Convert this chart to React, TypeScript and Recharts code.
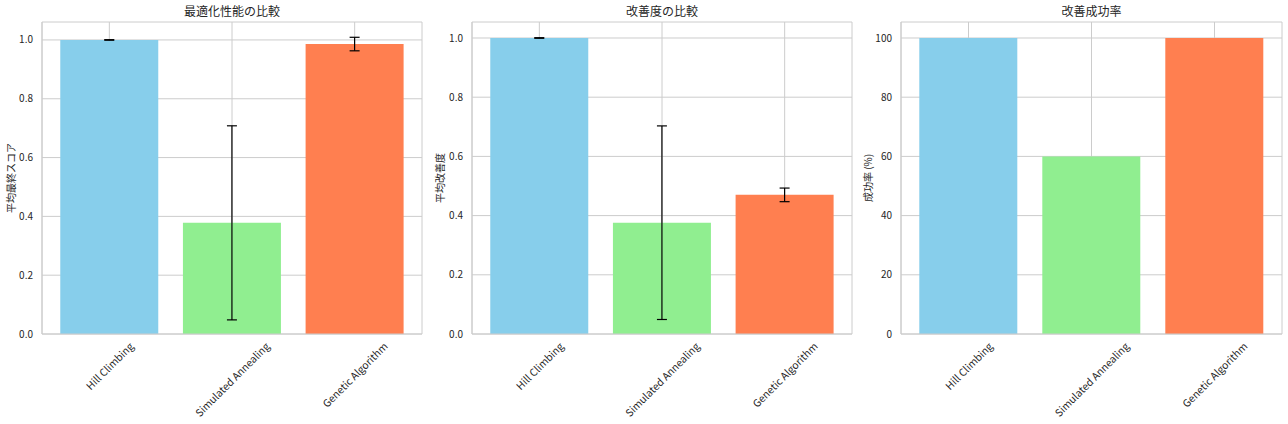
import React from "react";
import { Bar, BarChart, CartesianGrid, Cell, ErrorBar, XAxis, YAxis } from "recharts";

const algorithms = ["Hill Climbing", "Simulated Annealing", "Genetic Algorithm"];
const colors = ["#87CEEB", "#90EE90", "#FF7F50"];

const finalScoreMean = [1.0, 0.378, 0.986];
const finalScoreStd = [0.001, 0.33, 0.023];
const improvementMean = [1.0, 0.376, 0.47];
const improvementStd = [0.001, 0.327, 0.023];
const successRate = [100, 60, 100];

const ratioTicks = [0, 0.2, 0.4, 0.6, 0.8, 1.0];
const percentTicks = [0, 20, 40, 60, 80, 100];

const FONT = '"Noto Sans CJK JP", "Noto Sans", sans-serif';
const TEXT = "#262626";
const GRID = "#cccccc";

const PLOT_TOP = 22;
const PLOT_BOTTOM = 334;
const HEIGHT = 424;

let ctx: CanvasRenderingContext2D | null = null;
function textWidth(s: string, size: number) {
  if (!ctx) ctx = document.createElement("canvas").getContext("2d");
  if (!ctx) return s.length * size * 0.5;
  ctx.font = `${size}px ${FONT}`;
  return ctx.measureText(s).width;
}

function RotatedTick(props: any) {
  const { x, payload } = props;
  const size = 10.3;
  const L = textWidth(payload.value, size);
  const h = 11;
  const top = PLOT_BOTTOM + 6;
  const cy = top + (0.7071 * (L + h)) / 2;
  return (
    <text
      x={x}
      y={cy}
      transform={`rotate(-45, ${x}, ${cy})`}
      textAnchor="middle"
      dominantBaseline="central"
      fontSize={size}
      fontFamily={FONT}
      fill={TEXT}
    >
      {payload.value}
    </text>
  );
}

type PanelProps = {
  left: number;
  plotLeft: number;
  plotRight: number;
  title: string;
  yLabel: string;
  yLabelX: number;
  values: number[];
  errors?: number[];
  domainMax: number;
  ticks: number[];
  tickFormat: (v: number) => string;
};

function Panel({ left, plotLeft, plotRight, title, yLabel, yLabelX, values, errors, domainMax, ticks, tickFormat }: PanelProps) {
  const data = algorithms.map((name, i) => ({
    name,
    value: values[i],
    err: errors ? errors[i] : 0,
  }));
  const yWidth = plotLeft - left;
  const width = plotRight - left + 2;
  return (
    <div style={{ position: "absolute", left, top: 0, width, height: HEIGHT }}>
      <div
        style={{
          position: "absolute",
          left: yWidth,
          width: plotRight - plotLeft,
          top: 3,
          textAlign: "center",
          fontFamily: FONT,
          fontSize: 12,
          color: TEXT,
          lineHeight: "16px",
        }}
      >
        {title}
      </div>
      <div
        style={{
          position: "absolute",
          left: yLabelX - left - 60,
          top: (PLOT_TOP + PLOT_BOTTOM) / 2 - 8,
          width: 120,
          height: 16,
          lineHeight: "16px",
          textAlign: "center",
          transform: "rotate(-90deg)",
          fontFamily: FONT,
          fontSize: 10,
          color: TEXT,
        }}
      >
        {yLabel}
      </div>
      <BarChart
        width={width}
        height={HEIGHT}
        data={data}
        margin={{ top: PLOT_TOP, right: 2, bottom: 0, left: 0 }}
        barCategoryGap="10%"
      >
        <CartesianGrid stroke={GRID} strokeWidth={1} />
        <XAxis
          dataKey="name"
          height={HEIGHT - PLOT_BOTTOM}
          padding={{ left: 6, right: 6 }}
          tickLine={false}
          axisLine={{ stroke: GRID }}
          tick={<RotatedTick />}
          interval={0}
        />
        <XAxis xAxisId="top" orientation="top" dataKey="name" height={0} tick={false} tickLine={false} axisLine={{ stroke: GRID }} />
        <YAxis
          width={yWidth}
          domain={[0, domainMax]}
          ticks={ticks}
          tickFormatter={tickFormat}
          tickLine={false}
          tickSize={6}
          tickMargin={3}
          axisLine={{ stroke: GRID }}
          tick={{ fontSize: 10, fontFamily: FONT, fill: TEXT }}
          allowDataOverflow
        />
        <YAxis yAxisId="right" orientation="right" width={0} tick={false} tickLine={false} axisLine={{ stroke: GRID }} />
        <Bar dataKey="value" isAnimationActive={false}>
          {data.map((d, i) => (
            <Cell key={d.name} fill={colors[i]} />
          ))}
          {errors ? <ErrorBar dataKey="err" width={5} stroke="#000000" strokeWidth={1.2} /> : null}
        </Bar>
      </BarChart>
    </div>
  );
}

export default function App() {
  return (
    <div style={{ position: "absolute", left: 0, top: 0, width: 1288, height: HEIGHT, background: "#ffffff" }}>
      <Panel
        left={0}
        plotLeft={42}
        plotRight={422}
        title="最適化性能の比較"
        yLabel="平均最終スコア"
        yLabelX={11}
        values={finalScoreMean}
        errors={finalScoreStd}
        domainMax={1.061}
        ticks={ratioTicks}
        tickFormat={(v) => v.toFixed(1)}
      />
      <Panel
        left={430}
        plotLeft={472}
        plotRight={852}
        title="改善度の比較"
        yLabel="平均改善度"
        yLabelX={440}
        values={improvementMean}
        errors={improvementStd}
        domainMax={1.054}
        ticks={ratioTicks}
        tickFormat={(v) => v.toFixed(1)}
      />
      <Panel
        left={860}
        plotLeft={901}
        plotRight={1282}
        title="改善成功率"
        yLabel="成功率 (%)"
        yLabelX={868}
        values={successRate}
        domainMax={105.4}
        ticks={percentTicks}
        tickFormat={(v) => String(v)}
      />
    </div>
  );
}
